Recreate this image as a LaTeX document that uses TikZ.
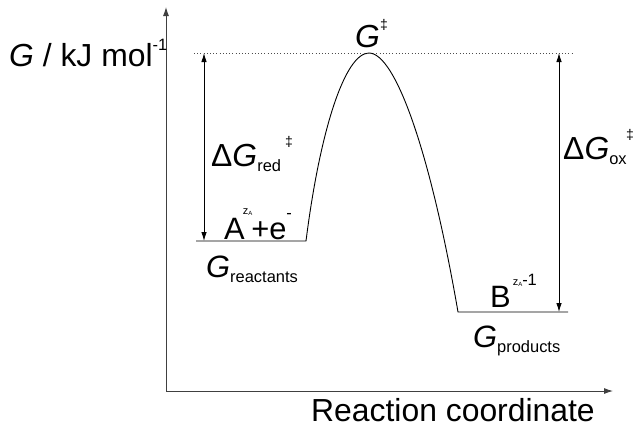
\documentclass[tikz,border=0pt]{standalone}
\usepackage{fontspec}
\setmainfont{Liberation Sans}
\usetikzlibrary{arrows.meta}
\newcommand\fbig{\fontsize{32}{32}\selectfont}
\newcommand\fmid{\fontsize{31}{31}\selectfont}
\newcommand\fsub{\fontsize{16.5}{16.5}\selectfont}
\newcommand\fsup{\fontsize{14}{14}\selectfont}
\newcommand\fz{\fontsize{11}{11}\selectfont}
\newcommand\fzz{\fontsize{6}{6}\selectfont}
\newcommand\mydd{{\fsup\char"2021}}
\newcommand\myDelta{\char"0394}
\newcommand\zA{{\fz z\raisebox{-1.5bp}{\fzz A}}}
\begin{document}
\begin{tikzpicture}[x=1bp,y=-1bp,
  axis/.style={line width=0.9bp, draw=black!75, -{Latex[length=9bp,width=6bp]}},
  level/.style={line width=0.9bp, draw=black},
  dim/.style={line width=0.9bp, draw=black, {Latex[length=9bp,width=5.5bp]}-{Latex[length=9bp,width=5.5bp]}},
  lab/.style={inner sep=0pt, anchor=base west}]
\useasboundingbox (0,0) rectangle (634,427);
% axes
\coordinate (o) at (166,391);
\coordinate (ytop) at (166,7);
\coordinate (xend) at (613,391);
\draw[axis] (o) -- (ytop);
\draw[axis] (o) -- (xend);
% levels and curve
\coordinate (r0) at (196,241);
\coordinate (r1) at (306,241);
\coordinate (ts) at (369,53);
\coordinate (p0) at (458,312);
\coordinate (p1) at (568,312);
\draw[level] (r0) -- (r1)
  .. controls (320,130) and (345,53) .. (ts)
  .. controls (395,53) and (430,150) .. (p0) -- (p1);
% dotted line
\coordinate (d0) at (194,53);
\coordinate (d1) at (572,53);
\draw[black!70, line width=0.8bp, dash pattern=on 1bp off 2.2bp] (d0) -- (d1);
% dimension arrows
\coordinate (la) at (204,53);
\coordinate (lb) at (204,241);
\coordinate (ra) at (559,53);
\coordinate (rb) at (559,312);
\draw[dim] (la) -- (lb);
\draw[dim] (ra) -- (rb);
% labels
\node[lab] (ylab) at (9,66) {\fbig\textit{G} / kJ mol\raisebox{16bp}{\fsub -1}};
\node[lab] (xlab) at (311,421) {\fbig Reaction coordinate};
\node[lab] (gts) at (355,47) {\fbig\textit{G}\raisebox{18bp}{\mydd}};
\node[lab] (gred) at (211,166) {\fbig\myDelta\textit{G}\raisebox{-5bp}{\fsub red}\hspace{4bp}\raisebox{20bp}{\mydd}};
\node[lab] (gox) at (563,159) {\fbig\myDelta\textit{G}\raisebox{-5bp}{\fsub ox}\hspace{-0.5bp}\raisebox{20bp}{\mydd}};
\node[lab] (react) at (224,239) {\fmid A\hspace{-2bp}\raisebox{25bp}{\zA}\hspace{-1bp}+e\raisebox{21bp}{\fsub -}};
\node[lab] (gr) at (206,277) {\fmid\textit{G}\raisebox{-5bp}{\fsub reactants}};
\node[lab] (prod) at (490,307) {\fmid B\hspace{2bp}\raisebox{22bp}{\zA\fsub -1}};
\node[lab] (gp) at (473,347) {\fmid\textit{G}\raisebox{-5bp}{\fsub products}};
\end{tikzpicture}
\end{document}
